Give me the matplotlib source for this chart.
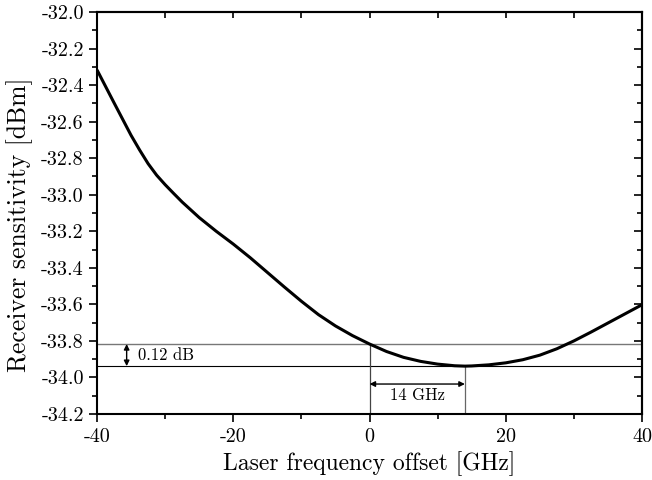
import matplotlib
matplotlib.use("Agg")
import matplotlib.pyplot as plt
from matplotlib.ticker import MultipleLocator, FixedLocator

plt.rcParams['font.family'] = 'serif'
plt.rcParams['font.serif'] = ['cmr10']
plt.rcParams['axes.formatter.use_mathtext'] = True
plt.rcParams['axes.unicode_minus'] = False

# laser frequency offset [GHz] and measured receiver sensitivity [dBm]
offset = [-40, -37.5, -35, -33.75, -32.5, -31.25, -30, -28.75, -27.5, -25, -22.5,
          -20, -17.5, -15, -12.5, -10, -7.5, -5, -2.5, 0, 2.5, 5, 7.5, 10, 12.5,
          14, 15, 17.5, 20, 22.5, 25, 27.5, 30, 32.5, 35, 37.5, 40]
sensitivity = [-32.317, -32.497, -32.675, -32.755, -32.83, -32.893, -32.945, -32.993,
               -33.04, -33.125, -33.20, -33.27, -33.345, -33.425, -33.505, -33.583,
               -33.656, -33.718, -33.771, -33.817, -33.858, -33.89, -33.912, -33.927,
               -33.936, -33.938, -33.937, -33.931, -33.92, -33.903, -33.878, -33.843,
               -33.80, -33.752, -33.702, -33.652, -33.602]

level_zero = -33.817   # sensitivity at zero offset
level_min = -33.938    # best sensitivity
f_min = 14

xticks = [-40, -20, 0, 20, 40]
yticks = [-34.2, -34.0, -33.8, -33.6, -33.4, -33.2, -33.0, -32.8, -32.6, -32.4, -32.2, -32.0]

fig = plt.figure(figsize=(6.52, 4.8), dpi=100)
ax = fig.add_axes([0.1488, 0.1375, 0.8359, 0.8375])

ax.plot(offset, sensitivity, color='black', lw=2.2, zorder=3,
        solid_joinstyle='round', solid_capstyle='butt')

# reference levels and offset markers
ax.axhline(level_zero, color='#777777', lw=1.0)
ax.axhline(level_min, color='black', lw=0.8)
ax.plot([0, 0], [-34.2, level_zero], color='#444444', lw=0.9)
ax.plot([f_min, f_min], [-34.2, level_min], color='#666666', lw=0.9)

arrow = dict(arrowstyle='<|-|>', color='black', lw=1.0, mutation_scale=8,
             shrinkA=0, shrinkB=0)
ax.annotate('', xy=(-35.65, level_zero), xytext=(-35.65, level_min), arrowprops=arrow)
ax.text(-34.0, (level_zero + level_min) / 2, '0.12 dB', fontsize=12,
        va='center', ha='left')
ax.annotate('', xy=(0, -34.036), xytext=(f_min, -34.036), arrowprops=arrow)
ax.text(f_min / 2, -34.098, '14 GHz', fontsize=12, va='center', ha='center')

ax.set_xlim(-40, 40)
ax.set_ylim(-34.2, -32.0)
ax.xaxis.set_major_locator(FixedLocator(xticks))
ax.xaxis.set_minor_locator(MultipleLocator(10))
ax.yaxis.set_major_locator(FixedLocator(yticks))
ax.yaxis.set_minor_locator(MultipleLocator(0.1))
ax.set_xticklabels([f'{v:d}' for v in xticks])
ax.set_yticklabels([f'{v:.1f}' for v in yticks])

ax.tick_params(which='both', direction='out', width=1.2, labelsize=14.5,
               top=False, right=False)
ax.tick_params(which='major', length=6)
ax.tick_params(which='minor', length=3.5)
ax.tick_params(axis='x', pad=4)

# inward ticks on the opposite spines
top = ax.secondary_xaxis('top')
top.xaxis.set_major_locator(MultipleLocator(10))
top.tick_params(direction='in', length=4, width=1.2, labeltop=False)
right = ax.secondary_yaxis('right')
right.yaxis.set_major_locator(FixedLocator(yticks))
right.yaxis.set_minor_locator(MultipleLocator(0.1))
right.tick_params(which='major', direction='in', length=6, width=1.2, labelright=False)
right.tick_params(which='minor', direction='in', length=3.5, width=1.2)

for s in list(ax.spines.values()) + [top.spines['top'], right.spines['right']]:
    s.set_linewidth(1.5)

ax.set_xlabel('Laser frequency offset [GHz]', fontsize=17, labelpad=4)
ax.set_ylabel('Receiver sensitivity [dBm]', fontsize=18.5)
ax.yaxis.set_label_coords(-0.117, 0.47)

fig.savefig('out.png', dpi=100)
